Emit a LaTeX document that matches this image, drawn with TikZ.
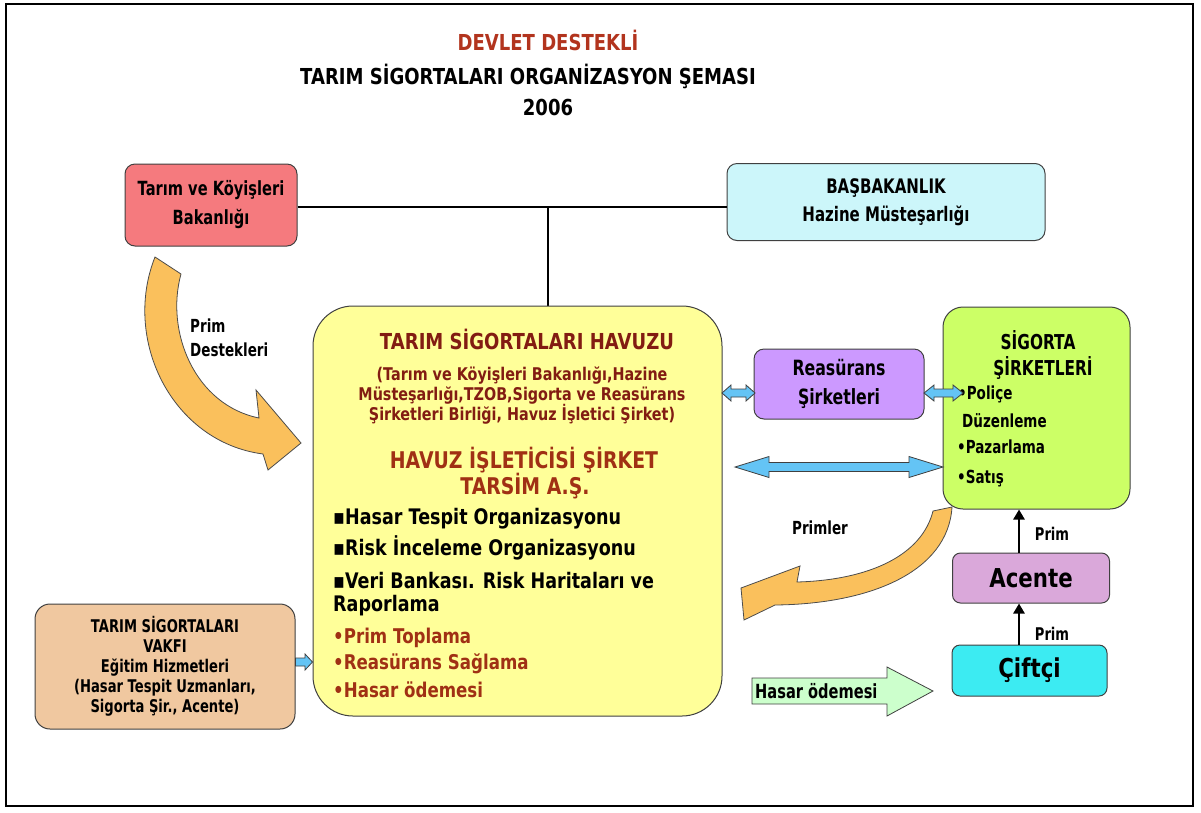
\documentclass[tikz,border=0pt]{standalone}
\usepackage{fontspec}
\setmainfont{DejaVu Sans}[FakeStretch=0.82]
\newfontfamily\cond{DejaVu Sans}[FakeStretch=0.75]
\usetikzlibrary{arrows.meta}
\definecolor{tkred}{RGB}{245,122,126}
\definecolor{hzcyan}{RGB}{204,246,250}
\definecolor{poolyel}{RGB}{255,255,153}
\definecolor{reaspur}{RGB}{204,153,255}
\definecolor{sigreen}{RGB}{204,255,102}
\definecolor{acpur}{RGB}{218,168,218}
\definecolor{cfcyan}{RGB}{60,235,242}
\definecolor{vktan}{RGB}{240,200,160}
\definecolor{orng}{RGB}{250,192,92}
\definecolor{lblue}{RGB}{100,196,245}
\definecolor{lgreen}{RGB}{204,255,204}
\definecolor{ttlred}{RGB}{178,52,30}
\definecolor{drkred}{RGB}{130,28,18}
\definecolor{brwn}{RGB}{160,48,20}
\newcommand\fsb[2]{\fontsize{#1}{#2}\selectfont\bfseries}
\newcommand\fsc[2]{\cond\fontsize{#1}{#2}\selectfont\bfseries}
\newcommand\mydblarrow[6]{%
  \filldraw[bluearr] (#1,#3) -- (#1+#6,#3-#5) -- (#1+#6,#3-#4) -- (#2-#6,#3-#4) -- (#2-#6,#3-#5) -- (#2,#3)
   -- (#2-#6,#3+#5) -- (#2-#6,#3+#4) -- (#1+#6,#3+#4) -- (#1+#6,#3+#5) -- cycle;}
\begin{document}
\begin{tikzpicture}[x=1pt,y=-1pt,
  box/.style={draw=black!75, line width=1pt, rounded corners=10pt, inner sep=0pt, align=center},
  txt/.style={inner sep=0pt, anchor=base},
  txtw/.style={inner sep=0pt, anchor=base west},
  bluearr/.style={fill=lblue, draw=black!75, line width=0.8pt},
  orngarr/.style={fill=orng, draw=black!70, line width=0.8pt},
  blk/.style={line width=2.8pt, -{Triangle[length=10pt,width=11pt]}}]
\useasboundingbox (0,0) rectangle (1201,812);
\draw[line width=2pt] (6,4) rectangle (1193,806);

% title
\node[txt, text=ttlred, font=\fsb{22}{26}] (t1) at (548,50) {DEVLET DESTEKLİ};
\node[txt, font=\fsb{22}{26}] (t2) at (528,84) {TARIM SİGORTALARI ORGANİZASYON ŞEMASI};
\node[txt, font=\fsb{22}{26}] (t3) at (548,115) {2006};

% top boxes
\node[box, fill=tkred, minimum width=172pt, minimum height=82pt, font=\fsc{19.5}{29}] (tarim) at (211,205) {Tarım ve Köyişleri\\Bakanlığı};
\node[box, fill=hzcyan, minimum width=318pt, minimum height=77pt, font=\fsc{20}{28}] (hazine) at (886,202) {BAŞBAKANLIK\\Hazine Müsteşarlığı};
\coordinate (j) at (548,207);
\draw[line width=2pt] (tarim.east |- j) -- (hazine.west |- j);
\draw[line width=2pt] (j) -- (548,307);

% pool
\node[box, fill=poolyel, rounded corners=40pt, minimum width=409pt, minimum height=410pt] (pool) at (517.5,511) {};
\node[txt, text=drkred, font=\fsb{22}{26}] (p1) at (527,349) {TARIM SİGORTALARI HAVUZU};
\node[txt, text=drkred, font=\fsb{17.5}{20}] (p2) at (522,380) {(Tarım ve Köyişleri Bakanlığı,Hazine};
\node[txt, text=drkred, font=\fsb{17.5}{20}] (p3) at (522,400) {Müsteşarlığı,TZOB,Sigorta ve Reasürans};
\node[txt, text=drkred, font=\fsb{17.5}{20}] (p4) at (522,420) {Şirketleri Birliği, Havuz İşletici Şirket)};
\node[txt, text=brwn, font=\fsb{23}{26}] (p5) at (524,468) {HAVUZ İŞLETİCİSİ ŞİRKET};
\node[txt, text=brwn, font=\fsb{23}{26}] (p6) at (525,494) {TARSİM A.Ş.};
\node[txtw, font=\fsb{21.4}{24}] (b1) at (333,524) {▪Hasar Tespit Organizasyonu};
\node[txtw, font=\fsb{21.4}{24}] (b2) at (333,555) {▪Risk İnceleme Organizasyonu};
\node[txtw, font=\fsb{21.4}{24}] (b3) at (333,588) {▪Veri Bankası. Risk Haritaları ve};
\node[txtw, font=\fsb{21.4}{24}] (b4) at (333,611) {Raporlama};
\node[txtw, text=brwn, font=\fsb{20.3}{24}] (b5) at (333,643) {•Prim Toplama};
\node[txtw, text=brwn, font=\fsb{20.3}{24}] (b6) at (333,669) {•Reasürans Sağlama};
\node[txtw, text=brwn, font=\fsb{20.3}{24}] (b7) at (333,697) {•Hasar ödemesi};

% reasurans and sigorta
\node[box, fill=reaspur, minimum width=170pt, minimum height=70pt, font=\fsc{21}{29}] (reas) at (839,384) {Reasürans\\Şirketleri};
\node[box, fill=sigreen, rounded corners=20pt, minimum width=187pt, minimum height=202pt] (sig) at (1036.5,408) {};
\node[txt, font=\fsc{20.5}{22}] (s1) at (1038,349) {SİGORTA};
\node[txt, font=\fsc{20.5}{22}] (s2) at (1043,375) {ŞİRKETLERİ};
\node[txtw, font=\fsc{18}{20}] (s3) at (958,399) {•Poliçe};
\node[txtw, font=\fsc{18}{20}] (s4) at (962,427) {Düzenleme};
\node[txtw, font=\fsc{18}{20}] (s5) at (957,453) {•Pazarlama};
\node[txtw, font=\fsc{18}{20}] (s6) at (957,483) {•Satış};

\mydblarrow{722}{755}{393}{4}{8}{9}
\mydblarrow{924}{963}{393}{4}{8}{10}
\mydblarrow{735}{943}{467}{4.5}{10.5}{34}

% Primler arrow
\filldraw[orngarr] (933,511) -- (952,507) .. controls (948,572) and (870,604) .. (775,605)
  -- (744,620) -- (741,588) -- (800,566) -- (797,582)
  .. controls (870,580) and (922,555) .. (933,511) -- cycle;
\node[txt, font=\fsc{18}{18}] (lprimler) at (820,534) {Primler};

% Prim destekleri arrow
\filldraw[orngarr] (155,257) -- (181,274) .. controls (165,332) and (195,405) .. (259,418)
  -- (256,390) -- (301,443) -- (268,470) -- (263,454)
  .. controls (172,442) and (122,340) .. (155,257) -- cycle;
\node[txtw, font=\fsc{18}{18}] (lpd1) at (190,332) {Prim};
\node[txtw, font=\fsc{18}{18}] (lpd2) at (190,356) {Destekleri};

% acente, ciftci
\node[box, fill=acpur, rounded corners=8pt, minimum width=157pt, minimum height=50pt, font=\fsb{26}{28}] (acente) at (1031,578) {Acente};
\node[box, fill=cfcyan, rounded corners=8pt, minimum width=155pt, minimum height=51pt, font=\fsb{26}{28}] (ciftci) at (1029.5,670.5) {Çiftçi};
\draw[blk] ([xshift=-12pt]acente.north) -- ([xshift=-12pt]acente.north |- sig.south);
\draw[blk] ([xshift=-10.5pt]ciftci.north) -- ([xshift=-10.5pt]ciftci.north |- acente.south);
\node[txt, font=\fsc{17.5}{18}] (lprim1) at (1052,540) {Prim};
\node[txt, font=\fsc{17.5}{18}] (lprim2) at (1052,640) {Prim};

% hasar odemesi arrow
\filldraw[fill=lgreen, draw=black!75, line width=0.8pt] (752,678) -- (887,678) -- (887,667) -- (933,691) -- (887,716) -- (887,704) -- (752,704) -- cycle;
\node[txtw, font=\fsc{19.5}{18}] (lhasar) at (755,698) {Hasar ödemesi};

% vakif
\node[box, fill=vktan, rounded corners=15pt, minimum width=260pt, minimum height=125pt, font=\fsc{17.5}{20}] (vakif) at (165,666.5) {TARIM SİGORTALARI\\VAKFI\\Eğitim Hizmetleri\\(Hasar Tespit Uzmanları,\\Sigorta Şir., Acente)};
\filldraw[bluearr] (vakif.east |- 0,658) -- (305,658) -- (305,654) -- (pool.west |- 0,662) -- (305,670) -- (305,666) -- (vakif.east |- 0,666) -- cycle;
\end{tikzpicture}
\end{document}
